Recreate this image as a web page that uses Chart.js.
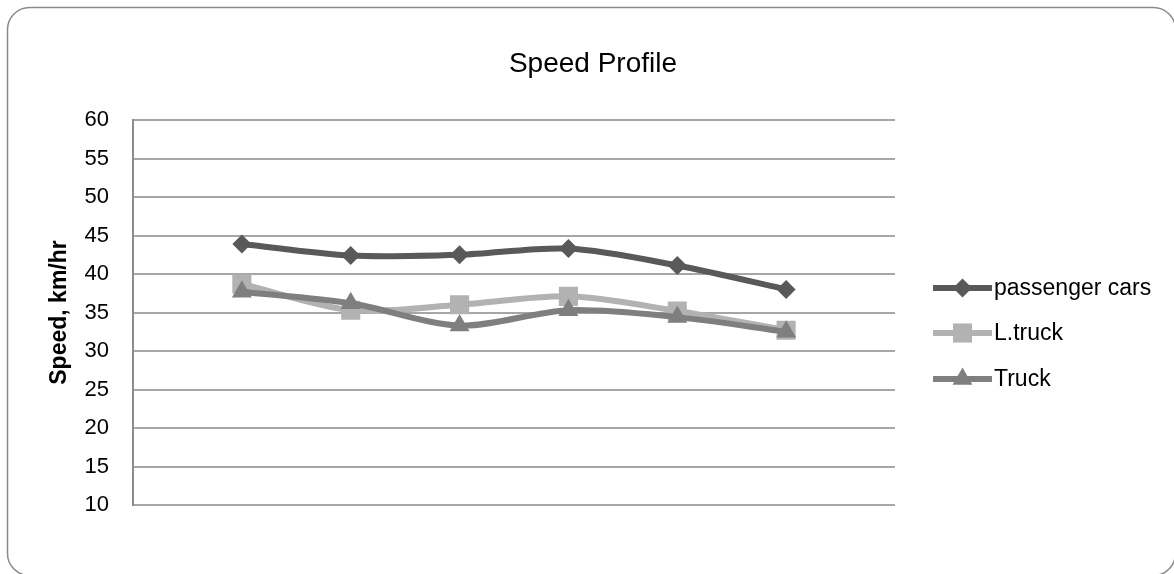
<!DOCTYPE html>
<html>
<head>
<meta charset="utf-8">
<script src="https://cdn.jsdelivr.net/npm/chart.js@4/dist/chart.umd.min.js"></script>
<style>
  html, body { margin: 0; padding: 0; background: #fff; }
  #wrap { width: 1174px; height: 574px; position: relative; }
</style>
</head>
<body>
<div id="wrap"><canvas id="c" width="1174" height="574"></canvas></div>
<script>
const chartTitle = 'Speed Profile';
const yAxisTitle = 'Speed, km/hr';
const categories = ['1', '2', '3', '4', '5', '6'];
const passengerCars = [43.9, 42.4, 42.5, 43.3, 41.1, 38.0];
const lightTruck = [38.7, 35.3, 36.0, 37.1, 35.2, 32.7];
const truck = [37.7, 36.2, 33.3, 35.3, 34.4, 32.5];
const seriesNames = ['passenger cars', 'L.truck', 'Truck'];
const yMin = 10, yMax = 60, yStep = 5;

const labels = [''].concat(categories, ['']);
const pad = arr => [null].concat(arr, [null]);

const FONT = '"Liberation Sans", Arial, sans-serif';
const colors = ['#595959', '#b2b2b2', '#7f7f7f'];
const styles = ['rectRot', 'rect', 'triangle'];
const radii = [9.5, 13.5, 11.5];

function drawMarker(ctx, style, x, y, r, color) {
  ctx.save();
  ctx.fillStyle = color;
  ctx.beginPath();
  if (style === 'rectRot') {
    ctx.moveTo(x, y - r); ctx.lineTo(x + r, y); ctx.lineTo(x, y + r); ctx.lineTo(x - r, y);
  } else if (style === 'rect') {
    const s = r * Math.SQRT1_2;
    ctx.rect(x - s, y - s, 2 * s, 2 * s);
  } else {
    const w = r * Math.sqrt(3) / 2;
    ctx.moveTo(x, y - r); ctx.lineTo(x + w, y + r / 2); ctx.lineTo(x - w, y + r / 2);
  }
  ctx.closePath();
  ctx.fill();
  ctx.restore();
}

const decor = {
  id: 'decor',
  beforeDraw(chart) {
    const ctx = chart.ctx;
    ctx.save();
    ctx.fillStyle = '#fff';
    ctx.fillRect(0, 0, chart.width, chart.height);
    ctx.restore();
  },
  afterDraw(chart) {
    const ctx = chart.ctx;
    ctx.save();
    ctx.strokeStyle = '#8a8a8a';
    ctx.lineWidth = 1.5;
    ctx.beginPath();
    ctx.roundRect(7.5, 7.5, 1168, 568, 22);
    ctx.stroke();
    ctx.fillStyle = '#000';
    ctx.font = '28px ' + FONT;
    ctx.textAlign = 'center';
    ctx.textBaseline = 'middle';
    ctx.fillText(chartTitle, 593, 64);
    const ys = [288, 333, 379];
    ctx.font = '23px ' + FONT;
    ctx.textAlign = 'left';
    for (let i = 0; i < 3; i++) {
      const y = ys[i];
      ctx.strokeStyle = colors[i];
      ctx.lineWidth = 6;
      ctx.lineCap = 'butt';
      ctx.beginPath();
      ctx.moveTo(933, y); ctx.lineTo(992, y);
      ctx.stroke();
      drawMarker(ctx, styles[i], 962.5, y, radii[i], colors[i]);
      ctx.fillStyle = '#000';
      ctx.fillText(seriesNames[i], 994, y + 1);
    }
    ctx.restore();
  }
};

const datasets = [passengerCars, lightTruck, truck].map((d, i) => ({
  label: seriesNames[i],
  data: pad(d),
  borderColor: colors[i],
  backgroundColor: colors[i],
  borderWidth: 6,
  pointStyle: styles[i],
  pointRadius: radii[i],
  pointHoverRadius: radii[i],
  pointBorderWidth: 0,
  pointBackgroundColor: colors[i],
  tension: 0.3,
  spanGaps: false,
  order: [2, 1, 0][i]
}));

new Chart(document.getElementById('c'), {
  type: 'line',
  data: { labels: labels, datasets: datasets },
  options: {
    responsive: false,
    animation: false,
    devicePixelRatio: 1,
    layout: { padding: { top: 120, bottom: 69, left: 0, right: 279 } },
    plugins: { legend: { display: false }, title: { display: false }, tooltip: { enabled: false } },
    scales: {
      x: { type: 'category', offset: false, display: false },
      y: {
        min: yMin, max: yMax,
        afterFit(scale) { scale.width = 133; },
        ticks: { stepSize: yStep, color: '#000', font: { family: FONT, size: 22 }, padding: 24 },
        grid: { color: '#a6a6a6', lineWidth: 2, drawTicks: false },
        border: { color: '#8c8c8c', width: 2 },
        title: { display: true, text: yAxisTitle, color: '#000', font: { family: FONT, size: 23, weight: 'bold' }, padding: { top: 46, bottom: 0 } }
      }
    }
  },
  plugins: [decor]
});
</script>
</body>
</html>
